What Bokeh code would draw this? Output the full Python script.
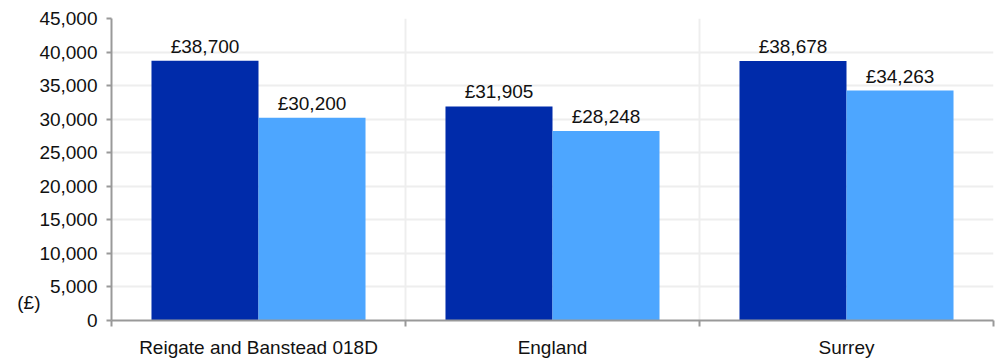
from bokeh.plotting import figure
from bokeh.models import ColumnDataSource, FixedTicker, NumeralTickFormatter, Range1d, LinearAxis
from bokeh.core.properties import value
from bokeh.embed import file_html
from bokeh.resources import INLINE

categories = ["Reigate and Banstead 018D", "England", "Surrey"]
series_a = [38700, 31905, 38678]
series_b = [30200, 28248, 34263]
y_ticks = [0, 5000, 10000, 15000, 20000, 25000, 30000, 35000, 40000, 45000]
unit_label = "(£)"

FONT = "Liberation Sans"
FS = "19px"
DARK = "#002BAA"
LIGHT = "#4DA6FF"
BW = 0.364

p = figure(frame_width=882, frame_height=302, output_backend="svg", toolbar_location=None,
           x_range=Range1d(0, 3), y_range=Range1d(0, 45000),
           min_border_left=111, min_border_right=8, min_border_top=18, min_border_bottom=39)
p.outline_line_color = None
p.background_fill_color = "white"
p.border_fill_color = "white"

centers = [i + 0.5 for i in range(len(categories))]
src_a = ColumnDataSource(dict(x=[c - BW / 2 for c in centers], y=series_a,
                              t=["£{:,}".format(v) for v in series_a]))
src_b = ColumnDataSource(dict(x=[c + BW / 2 for c in centers], y=series_b,
                              t=["£{:,}".format(v) for v in series_b]))

p.vbar(x="x", top="y", width=BW, bottom=0, source=src_a, fill_color=DARK, line_color=None)
p.vbar(x="x", top="y", width=BW, bottom=0, source=src_b, fill_color=LIGHT, line_color=None)

for s in (src_a, src_b):
    p.text(x="x", y="y", text="t", source=s, text_align="center", text_baseline="bottom",
           y_offset=-4, text_font=value(FONT), text_font_size=FS, text_color="#111111")

# y axis
p.yaxis.ticker = FixedTicker(ticks=y_ticks)
p.yaxis.formatter = NumeralTickFormatter(format="0,0")
p.yaxis.axis_line_color = "#999999"
p.yaxis.axis_line_width = 2
p.yaxis.major_tick_line_color = "#999999"
p.yaxis.major_tick_line_width = 2
p.yaxis.major_tick_out = 5
p.yaxis.major_tick_in = 0
p.yaxis.minor_tick_line_color = None
p.yaxis.major_label_standoff = 9
p.yaxis.major_label_text_font = FONT
p.yaxis.major_label_text_font_size = FS
p.yaxis.major_label_text_color = "#111111"

# unit label as a second, bare left axis
unit_axis = LinearAxis(ticker=FixedTicker(ticks=[2700]),
                       major_label_overrides={2700: unit_label},
                       axis_line_color=None, major_tick_line_color=None,
                       minor_tick_line_color=None, major_tick_out=0, major_tick_in=0,
                       major_label_standoff=-4,
                       major_label_text_font=FONT, major_label_text_font_size=FS,
                       major_label_text_color="#111111")
p.add_layout(unit_axis, "left")

# x axis
p.xaxis.ticker = FixedTicker(ticks=centers, minor_ticks=[0, 1, 2, 3])
p.xaxis.major_label_overrides = {c: lab for c, lab in zip(centers, categories)}
p.xaxis.axis_line_color = "#999999"
p.xaxis.axis_line_width = 2
p.xaxis.major_tick_line_color = None
p.xaxis.major_tick_out = 0
p.xaxis.major_tick_in = 0
p.xaxis.minor_tick_line_color = "#999999"
p.xaxis.minor_tick_line_width = 2
p.xaxis.minor_tick_out = 6
p.xaxis.minor_tick_in = 0
p.xaxis.major_label_standoff = 10
p.xaxis.major_label_text_font = FONT
p.xaxis.major_label_text_font_size = FS
p.xaxis.major_label_text_color = "#111111"

p.ygrid.ticker = FixedTicker(ticks=y_ticks[1:])
p.ygrid.grid_line_color = "#EEEEEE"
p.ygrid.grid_line_width = 2
p.xgrid.ticker = FixedTicker(ticks=[1, 2, 3])
p.xgrid.grid_line_color = "#EEEEEE"
p.xgrid.grid_line_width = 2

open("out.html", "w").write(file_html(p, INLINE))
